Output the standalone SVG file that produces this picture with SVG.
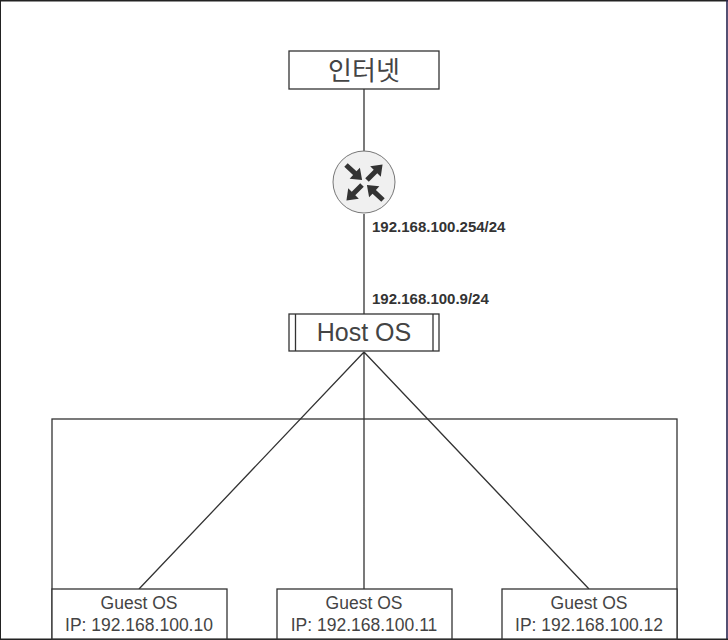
<svg xmlns="http://www.w3.org/2000/svg" width="728" height="640" viewBox="0 0 728 640">
<style>
.b{fill:#fff;stroke:#333;stroke-width:1.3}
.l{fill:none;stroke:#333;stroke-width:1.3}
.t{font-family:"Liberation Sans","Noto Sans CJK KR",sans-serif;fill:#444;text-anchor:middle}
.g{font-size:17.500px}
.lb{font-family:"Liberation Sans",sans-serif;font-size:15px;font-weight:bold;fill:#333}
.a{fill:#333;stroke:none}
</style>
<defs><path id="ar" d="M0 -2.500L12 -2.500L12 -7.500L22 0L12 7.500L12 2.500L0 2.500Z"/></defs>
<rect width="728" height="640" fill="#fff"/>
<g id="frame"><path d="M0.500 640V0.500" fill="none" stroke="#222" stroke-width="1"/><path d="M0 0.800H728" fill="none" stroke="#222" stroke-width="1.600"/><path d="M727 0V640" fill="none" stroke="#2a2550" stroke-width="1.600"/><path d="M0 639.200H728" fill="none" stroke="#222" stroke-width="1.600"/></g>
<g id="container"><rect x="52" y="419" width="625" height="220" class="b"/></g>
<g id="connectors">
<path class="l" d="M364 89V152M364 214V314M364 352L139 589M364 352V589M364 352L589 589"/>
</g>
<g id="internet"><rect x="289" y="51" width="150" height="38" class="b"/><text x="364" y="80" class="t" font-size="26">인터넷</text></g>
<g id="router">
<circle cx="364" cy="182" r="31" fill="#f0f0f0" stroke="#777" stroke-width="1"/>
<g class="a">
<use href="#ar" transform="translate(346 165) rotate(43)"/>
<use href="#ar" transform="translate(367 180) rotate(-45)"/>
<use href="#ar" transform="translate(362 185) rotate(135)"/>
<use href="#ar" transform="translate(383 200) rotate(223)"/>
</g>
</g>
<g id="label-wan"><text x="372" y="232" class="lb">192.168.100.254/24</text></g>
<g id="label-lan"><text x="372" y="304" class="lb">192.168.100.9/24</text></g>
<g id="host"><rect x="289" y="314" width="150" height="37" class="b"/><path class="l" d="M295.500 314V351M433 314V351"/><text x="364" y="341" class="t" font-size="25">Host OS</text></g>
<g id="guest1"><rect x="52" y="589" width="175" height="50" class="b"/><text x="139" y="609" class="t g">Guest OS</text><text x="139" y="631" class="t g">IP: 192.168.100.10</text></g>
<g id="guest2"><rect x="277" y="589" width="175" height="50" class="b"/><text x="364" y="609" class="t g">Guest OS</text><text x="364" y="631" class="t g">IP: 192.168.100.11</text></g>
<g id="guest3"><rect x="502" y="589" width="175" height="50" class="b"/><text x="589" y="609" class="t g">Guest OS</text><text x="589" y="631" class="t g">IP: 192.168.100.12</text></g>
</svg>
